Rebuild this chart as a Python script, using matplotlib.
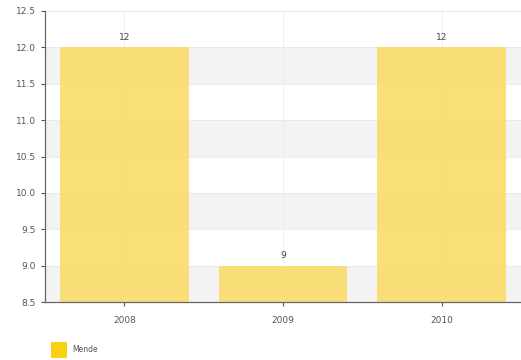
import numpy as np
import matplotlib
matplotlib.use("Agg")
import matplotlib.pyplot as plt
from matplotlib.patches import Rectangle

years = ["2008", "2009", "2010"]
values = [12, 9, 12]
series_name = "Mende"
y_ticks = [8.5, 9.0, 9.5, 10.0, 10.5, 11.0, 11.5, 12.0, 12.5]

fig = plt.figure(figsize=(5.21, 3.6), dpi=100)
ax = fig.add_axes([45 / 521, 1 - 302 / 360, 476 / 521, 291 / 360])

x = np.arange(len(years))
ax.set_xlim(-0.5, len(years) - 0.5)
ax.set_ylim(y_ticks[0], y_ticks[-1])

# alternating bands
for lo, hi in zip(y_ticks[:-1], y_ticks[1:]):
    if int(round((lo - 8.5) / 0.5)) % 2 == 0:
        ax.axhspan(lo, hi, color="#f3f3f3", lw=0, zorder=0)
for t in y_ticks:
    ax.axhline(t, color="#e8e8e8", lw=0.6, zorder=0.5)
for xi in x:
    ax.axvline(xi, color="#ececec", lw=0.6, zorder=0.5)

ax.bar(x, values, width=0.81, bottom=0, color="#fadd70", alpha=0.95, zorder=2)
for xi, v in zip(x, values):
    ax.text(xi, v + 0.08, f"{v}", ha="center", va="bottom", fontsize=6.5, color="#444444")

ax.set_xticks(x)
ax.set_xticklabels(years)
ax.set_yticks(y_ticks)
ax.set_yticklabels([f"{t:.1f}" for t in y_ticks])
ax.tick_params(axis="both", labelsize=6.5, colors="#555555", length=3, width=0.8)
ax.tick_params(axis="x", pad=7)
for sp in ("top", "right"):
    ax.spines[sp].set_visible(False)
for sp in ("left", "bottom"):
    ax.spines[sp].set_color("#666666")
    ax.spines[sp].set_linewidth(0.9)

# legend
fig.patches.append(Rectangle((51 / 521, 1 - 358 / 360), 16 / 521, 16 / 360,
                             transform=fig.transFigure, color="#f9d20e", lw=0))
fig.text(72 / 521, 1 - 350 / 360, series_name, fontsize=5.5, color="#555555", va="center")

fig.savefig("out.png", dpi=100)
